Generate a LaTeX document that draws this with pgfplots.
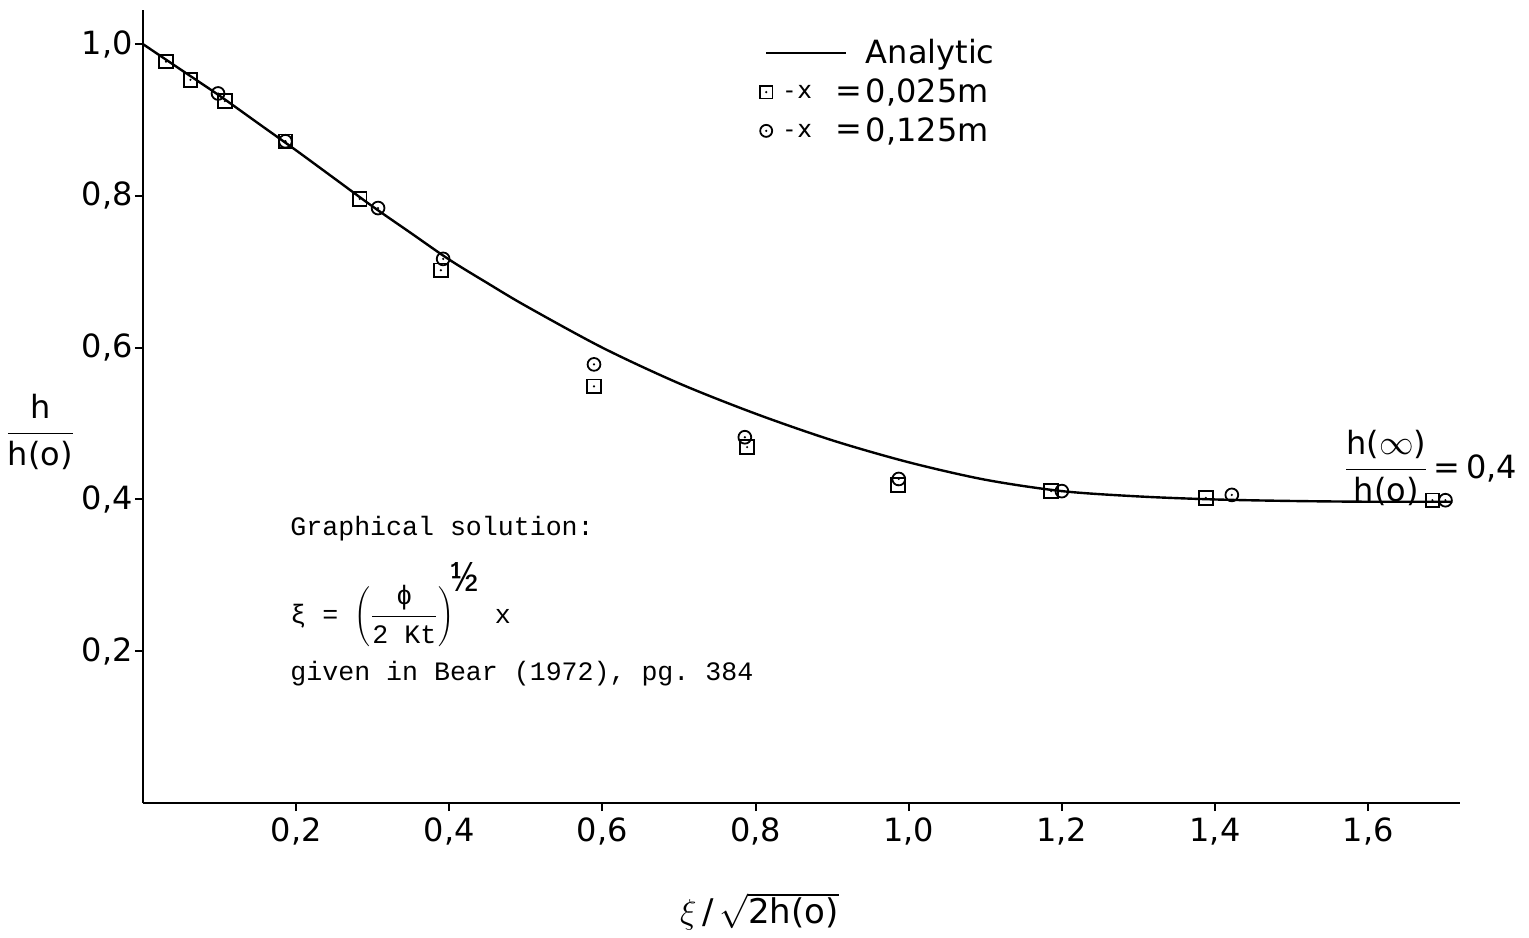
\documentclass[border=0pt]{standalone}
\usepackage{pgfplots}
\pgfplotsset{compat=1.18}
\usepackage{fontspec}
\setmainfont{DejaVu Sans}
\setmonofont{Liberation Mono}

\pgfdeclareplotmark{sqdot}{%
  \pgfpathrectangle{\pgfqpoint{-\pgfplotmarksize}{-\pgfplotmarksize}}{\pgfqpoint{2\pgfplotmarksize}{2\pgfplotmarksize}}\pgfusepathqstroke
  \pgfpathcircle{\pgfpointorigin}{0.6pt}\pgfusepathqfill}
\pgfdeclareplotmark{cdot}{%
  \pgfpathcircle{\pgfpointorigin}{\pgfplotmarksize}\pgfusepathqstroke
  \pgfpathcircle{\pgfpointorigin}{0.6pt}\pgfusepathqfill}

\begin{document}
\begin{tikzpicture}
\begin{axis}[
  at={(0,0)}, anchor=south west,
  scale only axis, width=658.5pt, height=396.5pt,
  xmin=0, xmax=1.72, ymin=0, ymax=1.045,
  axis lines=left, axis line style={-, line width=1.4pt},
  xtick={0.2,0.4,0.6,0.8,1.0,1.2,1.4,1.6},
  xticklabels={{0,2},{0,4},{0,6},{0,8},{1,0},{1,2},{1,4},{1,6}},
  ytick={0.2,0.4,0.6,0.8,1.0},
  yticklabels={{0,2},{0,4},{0,6},{0,8},{1,0}},
  tick align=outside, major tick length=4pt,
  tick style={black, line width=1pt},
  tick label style={font=\fontsize{16}{19}\selectfont},
  yticklabel style={inner sep=1pt},
  xlabel={$\xi$\,/\,$\sqrt{\mbox{2h(o)}}$},
  xlabel style={at={(axis description cs:0.468,-0.137)}, anchor=center, font=\fontsize{17}{20}\selectfont},
  ylabel={$\displaystyle\frac{\mbox{h}}{\mbox{h(o)}}$},
  ylabel style={rotate=-90, at={(axis description cs:-0.078,0.468)}, anchor=center, font=\fontsize{16}{19}\selectfont},
  clip=false,
  legend style={draw=none, fill=none, at={(axis cs:0.805,1.012)}, anchor=north west,
    font=\fontsize{16}{19}\selectfont, row sep=2pt, inner sep=0pt,
    nodes={inner sep=2pt}},
  legend cell align=left,
  /tikz/every even column/.append style={column sep=12pt},
]
\addplot[smooth, line width=1.2pt, black,
  legend image code/.code={\draw[line width=1.2pt] (0pt,0pt) -- (40pt,0pt);}]
coordinates {
(0,1.0) (0.05,0.966) (0.1,0.932) (0.15,0.896) (0.2,0.860) (0.25,0.823)
(0.3,0.786) (0.35,0.751) (0.4,0.716) (0.45,0.685) (0.5,0.655) (0.6,0.600)
(0.7,0.553) (0.8,0.513) (0.9,0.478) (1.0,0.449) (1.1,0.426) (1.2,0.411)
(1.3,0.404) (1.4,0.400) (1.5,0.398) (1.6,0.397) (1.71,0.397)
};
\addlegendentry{Analytic}

\addplot[only marks, mark=sqdot, mark size=3.4pt, black, mark options={line width=0.9pt},
  legend image code/.code={\pgfsetplotmarksize{3.2pt}\pgfsetlinewidth{0.9pt}\pgfuseplotmark{sqdot}
    \node[anchor=west, inner sep=0pt, font=\fontsize{12}{14}\selectfont] at (9pt,-0.8pt) {-\,x};
    \node[anchor=west, inner sep=0pt, font=\fontsize{16}{19}\selectfont] at (34pt,-1.6pt) {=};}]
coordinates {
(0.030,0.977) (0.062,0.953) (0.107,0.925) (0.186,0.872) (0.283,0.796)
(0.389,0.702) (0.589,0.549) (0.789,0.469) (0.986,0.419) (1.186,0.411)
(1.388,0.402) (1.684,0.399)
};
\addlegendentry{0,025m}

\addplot[only marks, mark=cdot, mark size=3.2pt, black, mark options={line width=0.9pt},
  legend image code/.code={\pgfsetplotmarksize{3pt}\pgfsetlinewidth{0.9pt}\pgfuseplotmark{cdot}
    \node[anchor=west, inner sep=0pt, font=\fontsize{12}{14}\selectfont] at (9pt,-0.8pt) {-\,x};
    \node[anchor=west, inner sep=0pt, font=\fontsize{16}{19}\selectfont] at (34pt,-1.6pt) {=};}]
coordinates {
(0.098,0.935) (0.186,0.872) (0.307,0.784) (0.392,0.717) (0.589,0.578)
(0.786,0.482) (0.987,0.427) (1.200,0.411) (1.422,0.406) (1.701,0.399)
};
\addlegendentry{0,125m}

\node[anchor=west, font=\fontsize{16}{19}\selectfont, inner sep=0pt] at (axis cs:1.568,0.441)
  {$\displaystyle\frac{\mbox{h($\infty$)}}{\mbox{h(o)}}$\,=\,0,4};

\node[anchor=west, font=\fontsize{13.3}{16}\selectfont\ttfamily, inner sep=0pt] at (axis cs:0.192,0.362)
  {Graphical solution:};
\node[anchor=west, font=\fontsize{13.3}{16}\selectfont\ttfamily, inner sep=0pt] at (axis cs:0.192,0.262)
  {ξ = $\left(\displaystyle\frac{\mbox{\ttfamily ϕ}}{\mbox{\ttfamily 2 Kt}}\right)^{\!\mbox{\fontsize{22}{22}\selectfont\ttfamily ½}}$ x};
\node[anchor=west, font=\fontsize{13.3}{16}\selectfont\ttfamily, inner sep=0pt] at (axis cs:0.192,0.171)
  {given in Bear (1972), pg. 384};
\end{axis}
\pgfresetboundingbox
\path[use as bounding box] (-71.5pt,-67pt) rectangle (693pt,401.5pt);
\end{tikzpicture}
\end{document}
